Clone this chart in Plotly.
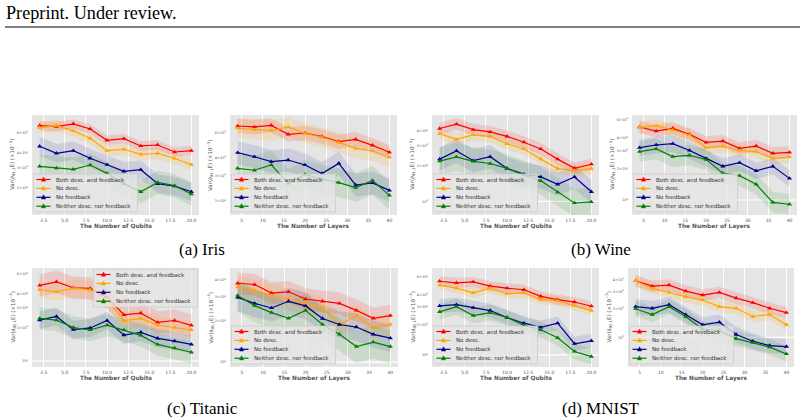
import plotly.graph_objects as go

W, H = 804, 420

# ---------------- data ----------------
QUBITS = [2, 4, 6, 8, 10, 12, 14, 16, 18, 20]
LAYERS = [4, 8, 12, 16, 20, 24, 28, 32, 36, 40]
QUBIT_TICKS = [2.5, 5.0, 7.5, 10.0, 12.5, 15.0, 17.5, 20.0]
QUBIT_TICKTEXT = ["2.5", "5.0", "7.5", "10.0", "12.5", "15.0", "17.5", "20.0"]
LAYER_TICKS = [5, 10, 15, 20, 25, 30, 35, 40]
LAYER_TICKTEXT = ["5", "10", "15", "20", "25", "30", "35", "40"]
Y_TICKS = [1, 2, 3, 4, 6]
Y_TICKTEXT = ["10<sup>0</sup>", "2×10<sup>0</sup>", "3×10<sup>0</sup>", "4×10<sup>0</sup>", "6×10<sup>0</sup>"]

SERIES_NAMES = ["Both desc. and feedback", "No desc.", "No feedback", "Neither desc. nor feedback"]
PANEL_CAPTIONS = ["(a) Iris", "(b) Wine", "(c) Titanic", "(d) MNIST"]

IRIS_Q_BOTH = [6.90, 6.77, 7.14, 6.46, 5.16, 5.33, 4.61, 4.70, 4.09, 4.20]
IRIS_Q_NODESC = [6.63, 6.90, 6.21, 5.37, 4.20, 4.32, 3.91, 3.99, 3.61, 3.18]
IRIS_Q_NOFB = [4.58, 3.99, 4.20, 3.61, 3.18, 2.79, 2.88, 2.18, 2.08, 1.86]
IRIS_Q_NEITHER = [3.08, 2.98, 2.90, 3.16, 2.68, 2.18, 1.86, 2.24, 2.10, 1.78]

IRIS_L_BOTH = [6.63, 6.53, 6.70, 5.81, 5.93, 5.60, 5.17, 5.36, 4.87, 4.36]
IRIS_L_NODESC = [6.40, 6.26, 6.16, 6.53, 5.90, 5.54, 5.11, 4.64, 4.45, 4.04]
IRIS_L_NOFB = [4.33, 4.06, 3.75, 3.85, 3.56, 3.10, 3.65, 2.58, 2.67, 2.37]
IRIS_L_NEITHER = [3.37, 3.27, 3.56, 2.65, 3.06, 2.84, 2.68, 2.48, 2.78, 2.19]

WINE_Q_BOTH = [4.20, 4.58, 4.11, 3.93, 3.60, 3.21, 2.81, 2.30, 1.92, 2.08]
WINE_Q_NODESC = [3.80, 3.39, 3.70, 3.60, 3.11, 2.81, 2.30, 1.91, 1.84, 1.91]
WINE_Q_NOFB = [2.30, 2.70, 2.23, 2.41, 1.91, 1.71, 1.62, 1.40, 1.62, 1.21]
WINE_Q_NEITHER = [2.21, 2.40, 2.20, 2.11, 1.92, 1.68, 1.50, 1.20, 0.97, 0.99]

WINE_L_BOTH = [5.09, 4.65, 4.94, 4.32, 3.61, 3.72, 3.16, 3.33, 2.83, 2.89]
WINE_L_NODESC = [5.05, 5.24, 4.76, 4.26, 3.21, 3.33, 3.02, 2.94, 2.53, 2.61]
WINE_L_NOFB = [3.21, 3.41, 3.51, 3.02, 2.53, 2.12, 2.30, 1.92, 2.12, 1.62]
WINE_L_NEITHER = [2.94, 3.12, 2.63, 2.71, 2.46, 1.82, 1.72, 1.42, 0.95, 0.91]

TITANIC_Q_BOTH = [4.76, 5.13, 4.54, 4.48, 3.70, 2.60, 2.69, 2.22, 2.31, 2.09]
TITANIC_Q_NODESC = [4.36, 4.18, 4.48, 4.36, 3.58, 2.31, 2.41, 2.10, 2.00, 1.90]
TITANIC_Q_NOFB = [2.33, 2.51, 1.91, 1.98, 2.31, 1.71, 1.81, 1.60, 1.51, 1.41]
TITANIC_Q_NEITHER = [2.41, 2.33, 2.00, 1.90, 2.10, 1.90, 1.70, 1.41, 1.31, 1.20]

TITANIC_L_BOTH = [3.80, 3.72, 3.22, 3.29, 2.91, 2.80, 2.70, 2.40, 2.10, 2.20]
TITANIC_L_NODESC = [3.56, 3.38, 3.09, 2.91, 2.70, 2.51, 1.89, 2.20, 1.80, 1.89]
TITANIC_L_NOFB = [2.99, 2.70, 2.50, 2.80, 2.59, 2.09, 1.89, 1.81, 1.60, 1.50]
TITANIC_L_NEITHER = [3.09, 2.60, 2.31, 2.10, 2.40, 1.89, 1.60, 1.30, 1.40, 1.30]

MNIST_Q_BOTH = [5.44, 5.24, 5.36, 4.86, 4.64, 4.47, 3.84, 3.56, 3.37, 3.06]
MNIST_Q_NODESC = [4.97, 4.64, 4.17, 4.64, 4.08, 4.17, 3.58, 3.48, 3.10, 2.77]
MNIST_Q_NOFB = [3.08, 3.17, 2.96, 2.77, 2.36, 2.07, 1.88, 2.07, 1.29, 1.38]
MNIST_Q_NEITHER = [2.69, 3.03, 2.47, 2.64, 2.36, 1.97, 1.78, 1.48, 1.08, 0.96]

MNIST_L_BOTH = [3.89, 3.42, 3.51, 3.04, 2.76, 2.94, 2.57, 2.30, 2.01, 1.81]
MNIST_L_NODESC = [3.89, 3.24, 2.94, 2.65, 2.45, 2.09, 2.01, 1.65, 1.73, 1.35]
MNIST_L_NOFB = [2.09, 2.01, 2.19, 1.72, 1.35, 1.44, 1.07, 0.91, 0.82, 0.80]
MNIST_L_NEITHER = [1.99, 1.73, 2.09, 1.64, 1.22, 1.17, 0.97, 0.88, 0.79, 0.67]

# half-width of shaded band, in log10 units (Both, No desc., No feedback, Neither)
IRIS_Q_BAND = [0.04, 0.05, 0.08, 0.10]
IRIS_L_BAND = [0.05, 0.07, 0.08, 0.10]
WINE_Q_BAND = [0.05, 0.05, 0.10, 0.12]
WINE_L_BAND = [0.06, 0.06, 0.08, 0.10]
TITANIC_Q_BAND = [0.10, 0.08, 0.08, 0.10]
TITANIC_L_BAND = [0.08, 0.08, 0.10, 0.12]
MNIST_Q_BAND = [0.05, 0.05, 0.07, 0.08]
MNIST_L_BAND = [0.06, 0.06, 0.08, 0.08]

# ---------------- style ----------------
COLORS = ["#FF0000", "#FFA500", "#00008B", "#008000"]
BAND_COLORS = ["rgba(255,0,0,0.13)", "rgba(255,165,0,0.15)", "rgba(0,0,139,0.10)", "rgba(0,128,0,0.11)"]
FONT = "DejaVu Sans"
SERIF = "Liberation Serif"

panels = [
    dict(x=QUBITS, ys=[IRIS_Q_BOTH, IRIS_Q_NODESC, IRIS_Q_NOFB, IRIS_Q_NEITHER], band=IRIS_Q_BAND,
         yr=[0.07, 0.93], box=(32, 199, 115, 215), xt="The Number of Qubits", leg="bl"),
    dict(x=LAYERS, ys=[IRIS_L_BOTH, IRIS_L_NODESC, IRIS_L_NOFB, IRIS_L_NEITHER], band=IRIS_L_BAND,
         yr=[0.204, 0.898], box=(230, 397, 115, 215), xt="The Number of Layers", leg="bl"),
    dict(x=QUBITS, ys=[WINE_Q_BOTH, WINE_Q_NODESC, WINE_Q_NOFB, WINE_Q_NEITHER], band=WINE_Q_BAND,
         yr=[-0.116, 0.739], box=(432, 599, 115, 215), xt="The Number of Qubits", leg="bl"),
    dict(x=LAYERS, ys=[WINE_L_BOTH, WINE_L_NODESC, WINE_L_NOFB, WINE_L_NEITHER], band=WINE_L_BAND,
         yr=[-0.145, 0.823], box=(632, 797, 115, 215), xt="The Number of Layers", leg="bl"),
    dict(x=QUBITS, ys=[TITANIC_Q_BOTH, TITANIC_Q_NODESC, TITANIC_Q_NOFB, TITANIC_Q_NEITHER], band=TITANIC_Q_BAND,
         yr=[-0.053, 0.834], box=(32, 199, 268, 367), xt="The Number of Qubits", leg="tr"),
    dict(x=LAYERS, ys=[TITANIC_L_BOTH, TITANIC_L_NODESC, TITANIC_L_NOFB, TITANIC_L_NEITHER], band=TITANIC_L_BAND,
         yr=[-0.036, 0.692], box=(230, 398, 268, 367), xt="The Number of Layers", leg="bl"),
    dict(x=QUBITS, ys=[MNIST_Q_BOTH, MNIST_Q_NODESC, MNIST_Q_NOFB, MNIST_Q_NEITHER], band=MNIST_Q_BAND,
         yr=[-0.122, 0.868], box=(432, 599, 268, 367), xt="The Number of Qubits", leg="bl"),
    dict(x=LAYERS, ys=[MNIST_L_BOTH, MNIST_L_NODESC, MNIST_L_NOFB, MNIST_L_NEITHER], band=MNIST_L_BAND,
         yr=[-0.310, 0.724], box=(628, 794, 268, 367), xt="The Number of Layers", leg="bl"),
]


def fx(px):
    return px / W


def fy(py):
    return 1 - py / H


fig = go.Figure()
layout = dict(
    width=W, height=H, margin=dict(l=0, r=0, t=0, b=0),
    paper_bgcolor="white", plot_bgcolor="#E5E5E5", showlegend=False,
    font=dict(family=FONT, color="#555555"),
)
shapes = []
annotations = []

for i, p in enumerate(panels, start=1):
    xa = "x" if i == 1 else f"x{i}"
    ya = "y" if i == 1 else f"y{i}"
    x0, x1, y0, y1 = p["box"]
    xs = p["x"]
    qub = xs is QUBITS

    # bands
    for k, ys in enumerate(p["ys"]):
        f = 10 ** p["band"][k]
        up = [v * f for v in ys]
        lo = [v / f for v in ys]
        fig.add_trace(go.Scatter(
            x=list(xs) + list(xs)[::-1], y=up + lo[::-1], fill="toself",
            fillcolor=BAND_COLORS[k], line=dict(width=0), mode="lines",
            hoverinfo="skip", xaxis=xa, yaxis=ya))
    # lines
    for k, ys in enumerate(p["ys"]):
        fig.add_trace(go.Scatter(
            x=xs, y=ys, mode="lines+markers", name=SERIES_NAMES[k],
            line=dict(color=COLORS[k], width=1.2),
            marker=dict(symbol="triangle-up", size=4.5, color=COLORS[k]),
            xaxis=xa, yaxis=ya))

    xr = [1.1, 20.9] if qub else [2.2, 41.8]
    layout["xaxis" if i == 1 else f"xaxis{i}"] = dict(
        domain=[fx(x0), fx(x1)], range=xr, anchor=ya,
        tickmode="array", tickvals=QUBIT_TICKS if qub else LAYER_TICKS,
        ticktext=QUBIT_TICKTEXT if qub else LAYER_TICKTEXT,
        tickfont=dict(size=4.5, color="#555555", family=FONT),
        showgrid=True, gridcolor="white", gridwidth=1.2,
        zeroline=False, showline=False, ticks="", ticklabelstandoff=1)
    layout["yaxis" if i == 1 else f"yaxis{i}"] = dict(
        domain=[fy(y1), fy(y0)], type="log", range=p["yr"], anchor=xa,
        tickmode="array", tickvals=Y_TICKS, ticktext=Y_TICKTEXT,
        tickfont=dict(size=3.5, color="#555555", family=FONT),
        showgrid=False, zeroline=False, showline=False, ticks="", ticklabelstandoff=3)

    if p["yr"][0] < 0 < p["yr"][1]:
        shapes.append(dict(type="line", xref=f"{xa} domain", x0=0, x1=1, yref=ya, y0=1, y1=1,
                           line=dict(color="white", width=1.2), layer="below"))

    # axis titles
    annotations.append(dict(text="Var(∂<sub>θ1,1</sub>E) (×10<sup>−3</sup>)", textangle=-90,
                            xref="paper", yref="paper", x=fx(x0 - 20), y=fy((y0 + y1) / 2),
                            xanchor="center", yanchor="middle",
                            showarrow=False, font=dict(size=5.5, color="#555555", family=FONT)))
    annotations.append(dict(text=f"<b>{p['xt']}</b>", xref="paper", yref="paper",
                            x=fx((x0 + x1) / 2), y=fy(y1 + 11), xanchor="center", yanchor="middle",
                            showarrow=False, font=dict(size=5.8, color="#555555", family=FONT)))

    # legend (drawn manually for compact rows)
    lw, lh = 104, 38
    if p["leg"] == "bl":
        lx, ly = x0 + 1.5, y1 - 3 - lh
    else:
        lx, ly = x1 - 1.5 - lw, y0 + 1
    shapes.append(dict(type="rect", xref="paper", yref="paper",
                       x0=fx(lx), x1=fx(lx + lw), y0=fy(ly + lh), y1=fy(ly),
                       fillcolor="rgba(229,229,229,0.8)", line=dict(color="#CCCCCC", width=0.8),
                       layer="above"))
    for k, name in enumerate(SERIES_NAMES):
        ry = ly + 5.5 + 8.9 * k
        shapes.append(dict(type="line", xref="paper", yref="paper",
                           x0=fx(lx + 3), x1=fx(lx + 17), y0=fy(ry), y1=fy(ry),
                           line=dict(color=COLORS[k], width=1.2), layer="above"))
        cx, s = lx + 10, 4.2
        path = (f"M {fx(cx)},{fy(ry - s * 0.6)} L {fx(cx - s / 2)},{fy(ry + s * 0.4)} "
                f"L {fx(cx + s / 2)},{fy(ry + s * 0.4)} Z")
        shapes.append(dict(type="path", xref="paper", yref="paper", path=path,
                           fillcolor=COLORS[k], line=dict(color=COLORS[k], width=0.5), layer="above"))
        annotations.append(dict(text=name, xref="paper", yref="paper", x=fx(lx + 20), y=fy(ry),
                                xanchor="left", yanchor="middle", showarrow=False,
                                font=dict(size=5.5, color="#333333", family=FONT)))

# header and captions
annotations.append(dict(text="Preprint. Under review.", xref="paper", yref="paper",
                        x=fx(4), y=fy(13), xanchor="left", yanchor="middle", showarrow=False,
                        font=dict(size=18.2, color="black", family=SERIF)))
shapes.append(dict(type="line", xref="paper", yref="paper", x0=fx(5), x1=fx(800),
                   y0=fy(27), y1=fy(27), line=dict(color="black", width=1)))
cap_pos = [(202, 249), (601, 249), (202, 408), (601, 408)]
for cap, (cxp, cyp) in zip(PANEL_CAPTIONS, cap_pos):
    annotations.append(dict(text=cap, xref="paper", yref="paper", x=fx(cxp), y=fy(cyp),
                            xanchor="center", yanchor="middle", showarrow=False,
                            font=dict(size=17, color="black", family=SERIF)))

layout["shapes"] = shapes
layout["annotations"] = annotations
fig.update_layout(**layout)
fig.write_html("out.html")
